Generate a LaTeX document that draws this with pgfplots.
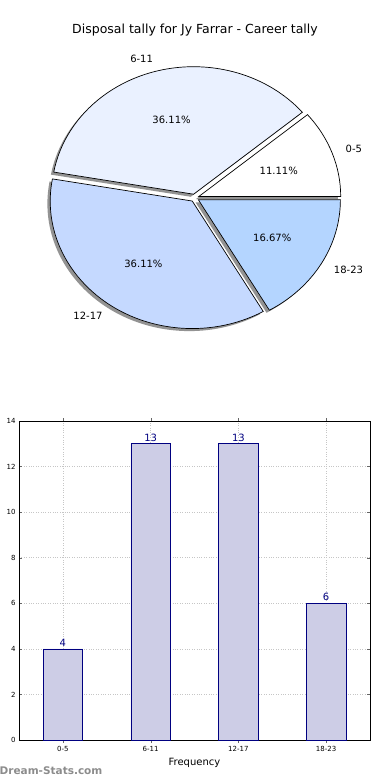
\documentclass[border=0pt]{standalone}
\usepackage{pgfplots}
\pgfplotsset{compat=1.18}
\usepackage{fontspec}
\setmainfont{DejaVu Sans}
\definecolor{cA}{RGB}{255,255,255}
\definecolor{cB}{RGB}{234,241,255}
\definecolor{cC}{RGB}{197,217,255}
\definecolor{cD}{RGB}{180,213,255}
\definecolor{navyc}{RGB}{0,0,128}
\definecolor{barfill}{RGB}{205,205,230}
\definecolor{shadowc}{RGB}{120,120,120}
\begin{document}
\begin{tikzpicture}[x=1pt,y=1pt]
\path[use as bounding box] (0,0) rectangle (390,-780);
\node[font=\fontsize{12.5}{14}\selectfont] at (195,-30) {Disposal tally for Jy Farrar - Career tally};
% ---------------- pie (counts 4, 13, 13, 6 of 36 -> 40, 130, 130, 60 degrees)
\begin{axis}[at={(194.7pt,-197.9pt)}, anchor=origin, x=142pt, y=127.5pt,
  xmin=-1.5, xmax=1.5, ymin=-1.5, ymax=1.5, hide axis, clip=false]
  % shadows
  \fill[shadowc, opacity=0.8] (axis cs:0.0082,-0.0097) -- (axis cs:{0.0082+cos(0)},{-0.0097+sin(0)}) arc[start angle=0,end angle=40,x radius=142pt,y radius=127.5pt] -- cycle;
  \fill[shadowc, opacity=0.8] (axis cs:-0.0278,0.0090) -- (axis cs:{-0.0278+cos(40)},{0.0090+sin(40)}) arc[start angle=40,end angle=170,x radius=142pt,y radius=127.5pt] -- cycle;
  \fill[shadowc, opacity=0.8] (axis cs:-0.0372,-0.0446) -- (axis cs:{-0.0372+cos(170)},{-0.0446+sin(170)}) arc[start angle=170,end angle=300,x radius=142pt,y radius=127.5pt] -- cycle;
  \fill[shadowc, opacity=0.8] (axis cs:0.0060,-0.0350) -- (axis cs:{0.0060+cos(300)},{-0.0350+sin(300)}) arc[start angle=300,end angle=360,x radius=142pt,y radius=127.5pt] -- cycle;
  % wedges
  \draw[fill=cA, line width=0.7pt] (axis cs:0.0282,0.0103) -- (axis cs:{0.0282+cos(0)},{0.0103+sin(0)}) arc[start angle=0,end angle=40,x radius=142pt,y radius=127.5pt] -- cycle;
  \draw[fill=cB, line width=0.7pt] (axis cs:-0.0078,0.0290) -- (axis cs:{-0.0078+cos(40)},{0.0290+sin(40)}) arc[start angle=40,end angle=170,x radius=142pt,y radius=127.5pt] -- cycle;
  \draw[fill=cC, line width=0.7pt] (axis cs:-0.0172,-0.0246) -- (axis cs:{-0.0172+cos(170)},{-0.0246+sin(170)}) arc[start angle=170,end angle=300,x radius=142pt,y radius=127.5pt] -- cycle;
  \draw[fill=cD, line width=0.7pt] (axis cs:0.0260,-0.0150) -- (axis cs:{0.0260+cos(300)},{-0.0150+sin(300)}) arc[start angle=300,end angle=360,x radius=142pt,y radius=127.5pt] -- cycle;
  % labels
  \begin{scope}[every node/.style={font=\fontsize{10}{12}\selectfont, inner sep=0pt}]
  \node[anchor=west] at (axis cs:1.062,0.386) {0-5};
  \node[anchor=east] at (axis cs:-0.2925,1.0915) {6-11};
  \node[anchor=east] at (axis cs:-0.648,-0.926) {12-17};
  \node[anchor=west] at (axis cs:0.979,-0.565) {18-23};
  \node at (axis cs:0.592,0.216) {11.11\%};
  \node at (axis cs:-0.163,0.609) {36.11\%};
  \node at (axis cs:-0.361,-0.516) {36.11\%};
  \node at (axis cs:0.546,-0.315) {16.67\%};
  \end{scope}
\end{axis}
% ---------------- bars
\begin{axis}[at={(19pt,-740pt)}, anchor=south west, scale only axis,
  width=351pt, height=319pt,
  xmin=-0.5, xmax=3.5, ymin=0, ymax=14,
  ytick={0,2,...,14}, xtick={0,1,2,3}, xticklabels={0-5,6-11,12-17,18-23},
  ybar, bar width=0.45,
  grid=major, grid style={dotted, line width=0.7pt, gray!45},
  axis line style={black, line width=0.8pt},
  tick style={black!60}, major tick length=3pt,
  tick label style={font=\fontsize{7}{8}\selectfont},
  /pgf/number format/assume math mode=true,
  xlabel={Frequency}, xlabel style={font=\fontsize{10}{12}\selectfont, at={(axis description cs:0.5,-0.045)}, anchor=north},
  ylabel={Disposal Tally}, ylabel style={font=\fontsize{10}{12}\selectfont, at={(axis description cs:-0.046,0.5)}, anchor=south},
  nodes near coords,
  every node near coord/.append style={font=\fontsize{10}{12}\selectfont, text=navyc, inner sep=2pt},
  ]
  \addplot[fill=barfill, draw=navyc, line width=0.7pt] coordinates {(0,4) (1,13) (2,13) (3,6)};
\end{axis}
\node[anchor=west, inner sep=0pt, font=\bfseries\fontsize{10.5}{12}\selectfont, text=black!45] at (-0.5,-771) {Dream-Stats.com};
\end{tikzpicture}
\end{document}
